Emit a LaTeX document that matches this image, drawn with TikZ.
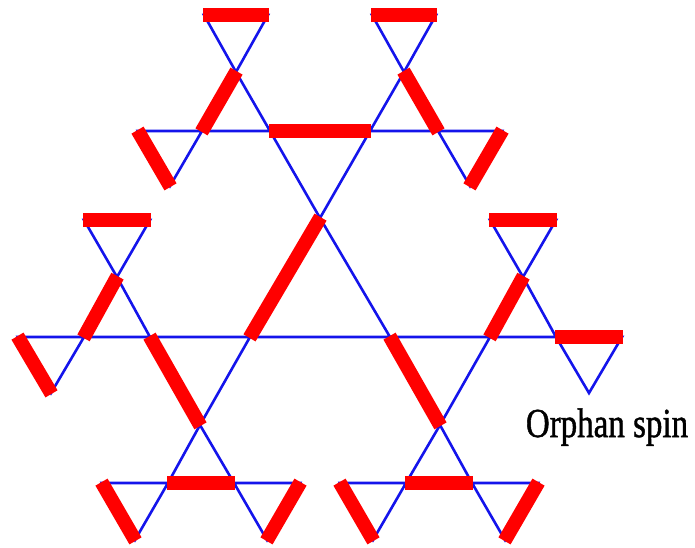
\documentclass[tikz,border=0pt]{standalone}
\usepackage{fontspec}
\setmainfont{Liberation Serif}
\newfontfamily\lblfont[FakeBold=1.2]{Liberation Serif}
\begin{document}
\begin{tikzpicture}[x=1pt,y=-1pt,
  bond/.style={draw={rgb,255:red,20;green,20;blue,235},line width=2.6pt,line join=miter},
  dimer/.style={draw={rgb,255:red,255;green,0;blue,0},line width=14pt,shorten <=-1pt,shorten >=-1pt},
  lbl/.style={font=\lblfont\fontsize{33}{38}\selectfont,anchor=base,inner sep=0pt}]
\useasboundingbox (0,0) rectangle (695,547);
% vertices
\coordinate (a1) at (204,15); \coordinate (a2) at (268,15); \coordinate (a3) at (236,72);
\coordinate (a4) at (202,131); \coordinate (a5) at (270,131); \coordinate (a6) at (138,131); \coordinate (a7) at (170,186);
\coordinate (b1) at (372,15); \coordinate (b2) at (436,15); \coordinate (b3) at (404,72);
\coordinate (b4) at (370,131); \coordinate (b5) at (438,131); \coordinate (b6) at (502,131); \coordinate (b7) at (470,186);
\coordinate (c1) at (320,218); \coordinate (c2) at (250,337); \coordinate (c3) at (390,337);
\coordinate (d1) at (84,220); \coordinate (d2) at (150,220); \coordinate (d3) at (117,277);
\coordinate (d4) at (84,337); \coordinate (d5) at (150,337); \coordinate (d6) at (18,337); \coordinate (d7) at (51,393);
\coordinate (e1) at (490,220); \coordinate (e2) at (556,220); \coordinate (e3) at (523,277);
\coordinate (e4) at (490,337); \coordinate (e5) at (556,337); \coordinate (e6) at (622,337); \coordinate (e7) at (589,393);
\coordinate (f1) at (200,425); \coordinate (f2) at (168,483); \coordinate (f3) at (234,483);
\coordinate (f4) at (102,483); \coordinate (f5) at (135,540); \coordinate (f6) at (300,483); \coordinate (f7) at (267,540);
\coordinate (g1) at (440,425); \coordinate (g2) at (406,483); \coordinate (g3) at (472,483);
\coordinate (g4) at (340,483); \coordinate (g5) at (373,540); \coordinate (g6) at (538,483); \coordinate (g7) at (505,540);
% triangles
\foreach \p/\q/\r in {a1/a2/a3,a3/a4/a5,a6/a4/a7,a5/b4/c1,b1/b2/b3,b3/b4/b5,b5/b6/b7,c1/c2/c3,
  d1/d2/d3,d3/d4/d5,d6/d4/d7,d5/c2/f1,c3/e4/g1,e1/e2/e3,e3/e4/e5,e5/e6/e7,
  f1/f2/f3,f4/f2/f5,f3/f6/f7,g1/g2/g3,g4/g2/g5,g3/g6/g7}
  \draw[bond] (\p) -- (\q) -- (\r) -- cycle;
% dimers
\foreach \p/\q in {a1/a2,a3/a4,a6/a7,b1/b2,b3/b5,b6/b7,a5/b4,c1/c2,d1/d2,d3/d4,d6/d7,
  e1/e2,e3/e4,e5/e6,d5/f1,f2/f3,f4/f5,f6/f7,c3/g1,g2/g3,g4/g5,g6/g7}
  \draw[dimer] (\p) -- (\q);
\node[lbl] (orphan) at (607,437) {\scalebox{1}[1.25]{Orphan spin}};
\end{tikzpicture}
\end{document}
